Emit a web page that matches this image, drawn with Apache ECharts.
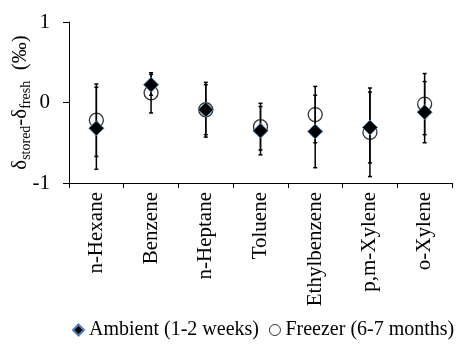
<!DOCTYPE html>
<html>
<head>
<meta charset="utf-8">
<script src="https://cdn.jsdelivr.net/npm/echarts@6/dist/echarts.min.js"></script>
<style>
  html, body { margin: 0; padding: 0; background: #fff; }
  #chart { width: 468px; height: 344px; }
</style>
</head>
<body>
<div id="chart"></div>
<script>
// compounds on the x axis
var categories = ['n-Hexane', 'Benzene', 'n-Heptane', 'Toluene', 'Ethylbenzene', 'p,m-Xylene', 'o-Xylene']
// ambient storage (1-2 weeks): mean and error
var ambient = [-0.32, 0.22, -0.09, -0.35, -0.36, -0.31, -0.12]
var ambientErr = [0.51, 0.13, 0.31, 0.30, 0.45, 0.44, 0.38]
// freezer storage (6-7 months): mean and error
var freezer = [-0.22, 0.12, -0.09, -0.30, -0.15, -0.37, -0.02]
var freezerErr = [0.45, 0.25, 0.34, 0.29, 0.35, 0.55, 0.38]
var yTicks = [-1, 0, 1]

var font = 'Liberation Serif'

// error bar data: [index, low, high]
function errData (vals, errs) {
  return vals.map(function (v, i) { return [i, v - errs[i], v + errs[i]] })
}

function renderErr (params, api) {
  var x = api.value(0)
  var lo = api.coord([x, api.value(1)])
  var hi = api.coord([x, api.value(2)])
  var w = 2
  var style = { stroke: '#000', lineWidth: 1.5 }
  return {
    type: 'group',
    children: [
      { type: 'line', shape: { x1: lo[0], y1: lo[1], x2: hi[0], y2: hi[1] }, style: style },
      { type: 'line', shape: { x1: lo[0] - w, y1: lo[1], x2: lo[0] + w, y2: lo[1] }, style: style },
      { type: 'line', shape: { x1: hi[0] - w, y1: hi[1], x2: hi[0] + w, y2: hi[1] }, style: style }
    ]
  }
}

var chart = echarts.init(document.getElementById('chart'))
chart.setOption({
  animation: false,
  textStyle: { fontFamily: font },
  grid: { left: 69, right: 16, top: 22, bottom: 161, containLabel: false, outerBoundsMode: 'none' },
  legend: {
    left: 67,
    top: 315,
    itemWidth: 11,
    itemHeight: 11,
    itemGap: 10,
    textStyle: { fontFamily: font, fontSize: 20, color: '#000' },
    data: [
      { name: 'Ambient (1-2 weeks)', icon: 'diamond' },
      { name: 'Freezer (6-7 months)', icon: 'circle', itemStyle: { color: 'transparent', borderColor: '#000', borderWidth: 1 } }
    ]
  },
  xAxis: {
    type: 'category',
    data: categories,
    boundaryGap: true,
    axisLine: { onZero: false, lineStyle: { color: '#000', width: 1 } },
    axisTick: { show: true, length: 5, lineStyle: { color: '#000' } },
    axisLabel: {
      rotate: 90,
      interval: 0,
      margin: 9,
      color: '#000',
      fontFamily: font,
      fontSize: 21
    },
    splitLine: { show: false }
  },
  yAxis: {
    type: 'value',
    min: yTicks[0],
    max: yTicks[yTicks.length - 1],
    interval: 1,
    axisLine: { show: true, lineStyle: { color: '#000', width: 1 } },
    axisTick: { show: true, length: 6, lineStyle: { color: '#000' } },
    axisLabel: { color: '#000', fontFamily: font, fontSize: 21, margin: 19 },
    splitLine: { show: false },
    name: '{d|δ}{s|stored}{d|-δ}{s|fresh}{d|  (‰)}',
    nameLocation: 'middle',
    nameGap: 36,
    nameMoveOverlap: false,
    nameTextStyle: {
      color: '#000',
      fontFamily: font,
      rich: {
        d: { fontFamily: font, fontSize: 21, lineHeight: 25, color: '#000' },
        s: { fontFamily: font, fontSize: 14, lineHeight: 14, verticalAlign: 'bottom', color: '#000' }
      }
    }
  },
  series: [
    {
      name: 'freezerErr',
      type: 'custom',
      renderItem: renderErr,
      data: errData(freezer, freezerErr),
      z: 2
    },
    {
      name: 'Freezer (6-7 months)',
      type: 'scatter',
      symbol: 'circle',
      symbolSize: 14,
      itemStyle: { color: 'transparent', borderColor: '#000', borderWidth: 1.3 },
      data: freezer,
      z: 3
    },
    {
      name: 'ambientErr',
      type: 'custom',
      renderItem: renderErr,
      data: errData(ambient, ambientErr),
      z: 4
    },
    {
      name: 'Ambient (1-2 weeks)',
      type: 'scatter',
      symbol: 'diamond',
      symbolSize: 15,
      itemStyle: { color: '#000', borderColor: '#4f81bd', borderWidth: 1, opacity: 1 },
      data: ambient,
      z: 5
    }
  ]
})
</script>
</body>
</html>
